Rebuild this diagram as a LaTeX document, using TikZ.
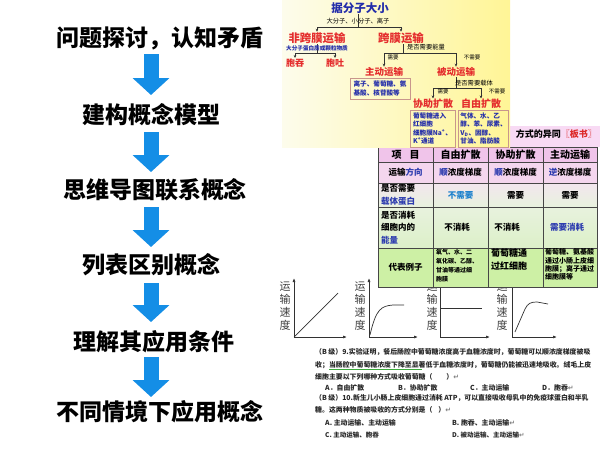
\documentclass[tikz,border=0pt]{standalone}
\usepackage{fontspec}
\setmainfont{Noto Sans CJK SC}
\newfontfamily\dejavu{DejaVu Sans}
\usetikzlibrary{arrows.meta,calc}
\definecolor{flowblue}{RGB}{20,142,230}
\definecolor{cmblue}{RGB}{35,45,170}
\definecolor{cmred}{RGB}{228,45,45}
\definecolor{boxedge}{RGB}{200,150,140}
\definecolor{yelA}{RGB}{253,252,236}
\definecolor{yelB}{RGB}{255,245,150}
\definecolor{titlepink}{RGB}{248,218,244}
\definecolor{rowA}{RGB}{240,196,234}
\definecolor{rowB}{RGB}{244,214,238}
\definecolor{rowC}{RGB}{242,230,238}
\definecolor{rowD}{RGB}{232,242,222}
\definecolor{rowE}{RGB}{220,240,200}
\definecolor{rowF}{RGB}{205,240,165}
\definecolor{tline}{RGB}{70,70,70}
\definecolor{tblue}{RGB}{45,60,175}
\definecolor{tlblue}{RGB}{30,130,205}
\definecolor{tred}{RGB}{220,40,40}
\definecolor{gline}{RGB}{50,50,50}
\definecolor{qtext}{RGB}{40,40,40}
\definecolor{ulgreen}{RGB}{60,170,60}
\newcommand{\myfs}[1]{\fontsize{#1}{#1}\selectfont}
\newcommand{\retmark}{{\dejavu\color{gray}↵}}
\tikzset{
  flowtext/.style={font=\myfs{23}\bfseries, inner sep=0pt, text=black},
  flowarrow/.style={draw=flowblue, line width=15pt, -{Triangle[width=36pt,length=17pt]}},
  cmtitle/.style={font=\myfs{11.5}\bfseries, text=cmblue, inner sep=0.5pt},
  cmbig/.style={font=\myfs{11.4}\bfseries, text=cmred, inner sep=0.5pt},
  cmmid/.style={font=\myfs{9.5}\bfseries, text=cmred, inner sep=0.5pt},
  cmnote/.style={font=\myfs{6.3}, text=black, inner sep=0.3pt},
  cmsmall/.style={font=\myfs{5.5}, text=black, inner sep=0.3pt},
  cmbluenote/.style={font=\myfs{5.6}\bfseries, text=cmblue, inner sep=0.3pt},
  cmline/.style={draw=black!80, line width=0.6pt},
  cmarrow/.style={cmline, -{Stealth[length=3pt,width=2.6pt]}},
  cmbox/.style={draw=boxedge, line width=0.9pt, text=cmblue, font=\fontsize{6.6}{8.6}\selectfont\bfseries, align=left, inner sep=1.5pt},
  thead/.style={font=\myfs{10}\bfseries, inner sep=0pt},
  tcell/.style={font=\fontsize{8.5}{12.5}\selectfont\bfseries, inner sep=0pt, align=left},
  tgrid/.style={draw=tline, line width=1pt},
  gaxis/.style={draw=gline, line width=0.7pt, -{Latex[length=4pt,width=3pt]}},
  gcurve/.style={draw=gline, line width=0.7pt},
  glabel/.style={font=\fontsize{11}{13}\selectfont, text=black!75, align=center, inner sep=0pt},
  qline/.style={font=\myfs{6.9}\bfseries, text=qtext, anchor=west, inner sep=0pt},
}
\begin{document}
\begin{tikzpicture}[x=1pt,y=-1pt]
\useasboundingbox (0,0) rectangle (600,450);
\fill[white] (0,0) rectangle (600,450);

% ---------------- left flow ----------------
\node[flowtext] (t1) at (160,38) {问题探讨，认知矛盾};
\node[flowtext] (t2) at (151,115) {建构概念模型};
\node[flowtext] (t3) at (155,190) {思维导图联系概念};
\node[flowtext] (t4) at (151,265) {列表区别概念};
\node[flowtext] (t5) at (154,342) {理解其应用条件};
\node[flowtext] (t6) at (160,412) {不同情境下应用概念};
\coordinate (col) at (151,0);
\draw[flowarrow] ($(col |- t1.center)+(0,16)$) -- ($(col |- t2.center)+(0,-20)$);
\draw[flowarrow] ($(col |- t2.center)+(0,17)$) -- ($(col |- t3.center)+(0,-18)$);
\draw[flowarrow] ($(col |- t3.center)+(0,17)$) -- ($(col |- t4.center)+(0,-18)$);
\draw[flowarrow] ($(col |- t4.center)+(0,18)$) -- ($(col |- t5.center)+(0,-20)$);
\draw[flowarrow] ($(col |- t5.center)+(0,15)$) -- ($(col |- t6.center)+(0,-15)$);

% ---------------- graphs ----------------
\coordinate (g1o) at (294,337);
\draw[gaxis] (g1o) -- (294,278);
\draw[gaxis] (g1o) -- (347,337);
\draw[gcurve] (g1o) -- (338,293);
\node[glabel] (g1l) at (285,306) {运\\输\\速\\度};

\coordinate (g2o) at (369,337);
\draw[gaxis] (g2o) -- (369,278);
\draw[gaxis] (g2o) -- (418,337);
\draw[gcurve] (370,335) .. controls (376,309) and (381,306) .. (393,305) -- (404,305);
\node[glabel] (g2l) at (360,306) {运\\输\\速\\度};

\coordinate (g3o) at (440,337);
\draw[gaxis] (g3o) -- (440,278);
\draw[gaxis] (g3o) -- (490,337);
\draw[gcurve] (440,308) -- (482,308);
\node[glabel] (g3l) at (432,306) {运\\输\\速\\度};

\coordinate (g4o) at (512,337);
\draw[gaxis] (g4o) -- (512,278);
\draw[gaxis] (g4o) -- (557,337);
\draw[gcurve] (515,332) -- (525,309) .. controls (528,303) and (531,302) .. (537,302) -- (548,304);
\node[glabel] (g4l) at (502,306) {运\\输\\速\\度};

% ---------------- table ----------------
\fill[titlepink] (378,126) rectangle (600,147);
\node[font=\myfs{9}\bfseries, anchor=east, inner sep=0pt] (ttl) at (597,134) {方式的异同{\color{tred}〖板书〗}};
\fill[rowA] (378,147) rectangle (597,162);
\fill[rowB] (378,162) rectangle (597,183);
\shade[top color=rowC, bottom color=rowD] (378,183) rectangle (597,207);
\shade[top color=rowD, bottom color=rowE] (378,207) rectangle (597,248);
\fill[rowF] (378,248) rectangle (597,287);
\draw[tgrid] (378,147) rectangle (597,287);
\foreach \yy in {162,183,207,248} \draw[tgrid] (378,\yy) -- (597,\yy);
\foreach \xx in {433,488,543} \draw[tgrid] (\xx,147) -- (\xx,287);

\node[thead] (h1) at (405.5,154.5) {项\hspace{8pt}目};
\node[thead] (h2) at (460.5,154.5) {自由扩散};
\node[thead] (h3) at (515.5,154.5) {协助扩散};
\node[thead] (h4) at (570,154.5) {主动运输};

\node[tcell] (a1) at (405.5,172.5) {运输{\color{tblue}方向}};
\node[tcell] (a2) at (460.5,172.5) {{\color{tblue}顺}浓度梯度};
\node[tcell] (a3) at (515.5,172.5) {{\color{tblue}顺}浓度梯度};
\node[tcell] (a4) at (570,172.5) {{\color{tblue}逆}浓度梯度};

\node[tcell, anchor=west] (b1) at (381,195) {是否需要\\{\color{tblue}载体蛋白}};
\node[tcell, text=tlblue] (b2) at (460.5,195) {不需要};
\node[tcell] (b3) at (515.5,195) {需要};
\node[tcell] (b4) at (570,195) {需要};

\node[tcell, anchor=west] (c1) at (381,227.5) {是否消耗\\细胞内的\\{\color{tblue}能量}};
\node[tcell] (c2) at (457,227.5) {不消耗};
\node[tcell] (c3) at (507,227.5) {不消耗};
\node[tcell, text=tblue] (c4) at (567,227.5) {需要消耗};

\node[tcell] (d1) at (405.5,267) {代表例子};
\node[tcell, font=\fontsize{6}{9}\selectfont\bfseries, anchor=north west] (d2) at (436,249) {氧气、水、二\\氧化碳、乙醇、\\甘油等通过细\\胞膜};
\node[tcell, font=\fontsize{9}{13}\selectfont\bfseries, anchor=north west] (d3) at (491,248.5) {葡萄糖通\\过红细胞};
\node[tcell, font=\fontsize{7}{8.4}\selectfont\bfseries, anchor=north west] (d4) at (545,248.5) {葡萄糖、氨基酸\\通过小肠上皮细\\胞膜；离子通过\\细胞膜等};

% ---------------- concept map ----------------
\shade[left color=yelA, right color=yelB] (282,0) rectangle (510,147);

\node[cmtitle] (n0) at (360,8) {据分子大小};
\coordinate (j0) at (358,27);
\draw[cmline] (n0.south -| j0) -- (j0);
\node[cmbig] (n1) at (317,38) {非跨膜运输};
\node[cmbig] (n2) at (401,38) {跨膜运输};
\draw[cmarrow] (j0) -| (n1.north);
\draw[cmarrow] (j0) -| (n2.north);
\node[cmnote] (l0) at (358,21.5) {大分子、小分子、离子};

\coordinate (j1) at (317,53);
\draw[cmline] (n1.south) -- (j1);
\node[cmbluenote] (l1) at (317,48) {大分子蛋白质或颗粒物质};
\node[cmmid, font=\myfs{9}\bfseries] (n11) at (295,63) {胞吞};
\node[cmmid, font=\myfs{9}\bfseries] (n12) at (335,63) {胞吐};
\draw[cmarrow] (j1) -| (n11.north);
\draw[cmarrow] (j1) -| (n12.north);

\coordinate (j2) at (403,53);
\draw[cmline] (n2.south -| j2) -- (j2);
\node[cmnote] (l2) at (426,47.5) {是否需要能量};
\node[cmmid] (n3) at (384,72) {主动运输};
\node[cmmid] (n4) at (456,72) {被动运输};
\draw[cmarrow] (j2) -| (n3.north);
\draw[cmarrow] (j2) -| (n4.north);
\node[cmsmall] (l3) at (393,58) {需要};
\node[cmsmall] (l4) at (472,58) {不需要};
\node[cmbox, minimum width=60pt, minimum height=21pt] (bx3) at (380,88.5) {离子、葡萄糖、氨\\基酸、核苷酸等};

\coordinate (j4) at (456,88);
\draw[cmline] (n4.south) -- (j4);
\node[cmnote] (l5) at (474,83) {是否需要载体};
\node[cmmid, font=\myfs{10}\bfseries] (n5) at (433,104) {协助扩散};
\node[cmmid, font=\myfs{10}\bfseries] (n6) at (481,104) {自由扩散};
\draw[cmarrow] (j4) -| (n5.north);
\draw[cmarrow] (j4) -| (n6.north);
\node[cmsmall] (l6) at (443,92) {需要};
\node[cmsmall] (l7) at (497,92) {不需要};
\node[cmbox, minimum width=45pt, minimum height=37pt] (bx5) at (432.5,128.5) {葡萄糖进入\\红细胞\\细胞膜Na\textsuperscript{+}、\\K\textsuperscript{+}通道};
\node[cmbox, minimum width=49pt, minimum height=37pt] (bx6) at (483.5,128.5) {气体、水、乙\\醇、苯、尿素、\\V\textsubscript{D}、固醇、\\甘油、脂肪酸};

% ---------------- questions ----------------
\node[qline] (q1) at (315,352) {（B 级）9.实验证明，餐后肠腔中葡萄糖浓度高于血糖浓度时，葡萄糖可以顺浓度梯度被吸};
\node[qline] (q2) at (315,365) {收；当肠腔中葡萄糖浓度下降至显著低于血糖浓度时，葡萄糖仍能被迅速地吸收。绒毛上皮};
\draw[ulgreen, line width=0.5pt] (329,369.5) -- (422,369.5);
\node[qline] (q3) at (315,377) {细胞主要以下列哪种方式吸收葡萄糖（\hspace{14pt}）\retmark};
\node[qline] (q4a) at (325,388) {A．自由扩散};
\node[qline] (q4b) at (398,388) {B．协助扩散};
\node[qline] (q4c) at (470,388) {C．主动运输};
\node[qline] (q4d) at (542,388) {D．胞吞\retmark};
\node[qline] (q5) at (315,398.5) {（B 级）10.新生儿小肠上皮细胞通过消耗 ATP，可以直接吸收母乳中的免疫球蛋白和半乳};
\node[qline] (q6) at (315,410) {糖。这两种物质被吸收的方式分别是（\hspace{6pt}）\retmark};
\node[qline] (q7a) at (325,423) {A. 主动运输、主动运输};
\node[qline] (q7b) at (452,423) {B. 胞吞、主动运输\retmark};
\node[qline, font=\myfs{6.5}\bfseries] (q8a) at (325,435) {C. 主动运输、胞吞};
\node[qline, font=\myfs{6.5}\bfseries] (q8b) at (452,435) {D. 被动运输、主动运输\retmark};
\end{tikzpicture}
\end{document}
